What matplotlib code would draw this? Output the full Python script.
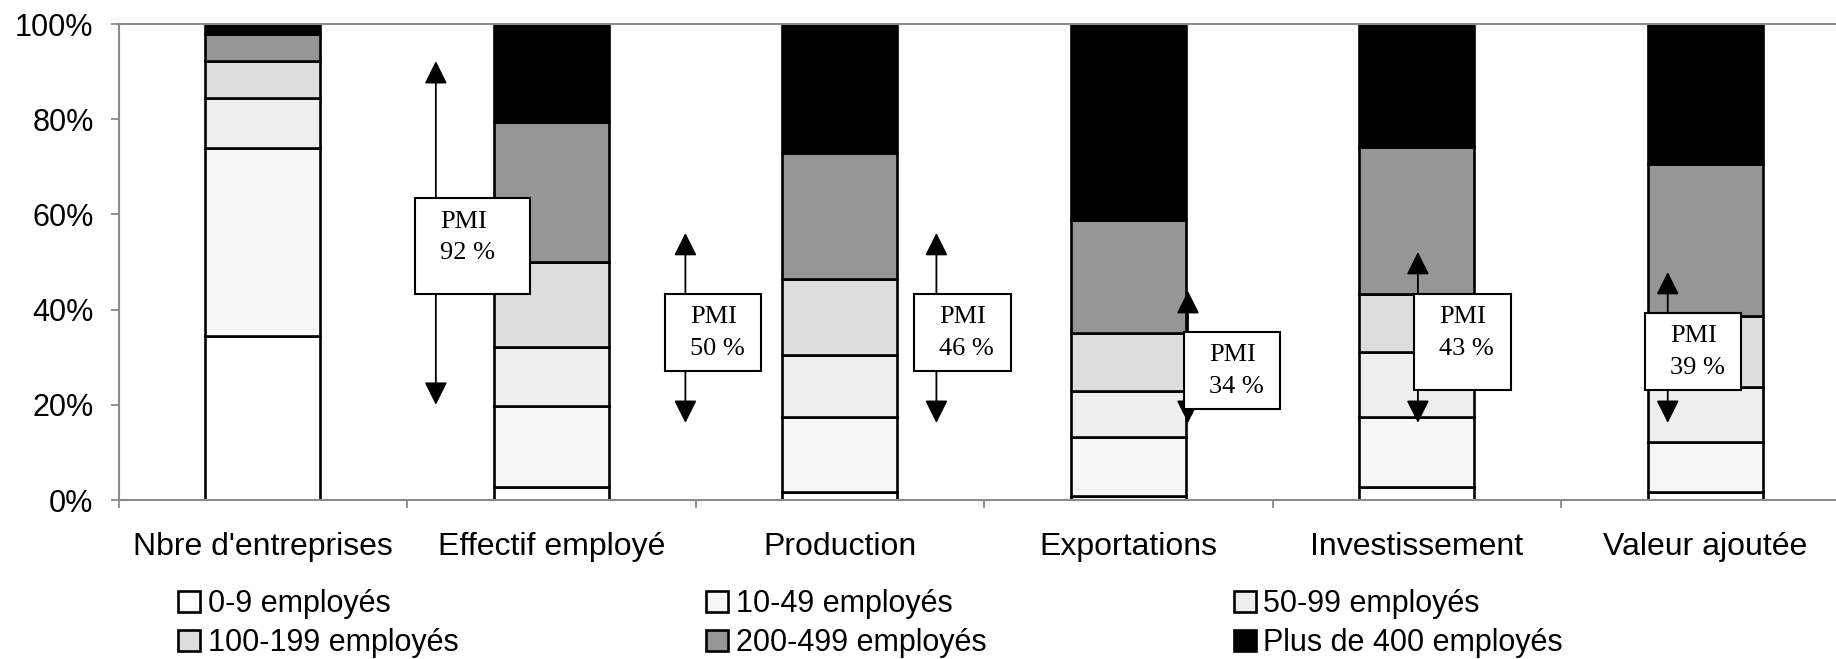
import matplotlib
matplotlib.use('Agg')
import matplotlib.pyplot as plt
from matplotlib.patches import Rectangle
from matplotlib.ticker import PercentFormatter, FixedLocator

plt.rcParams['font.family'] = ['Liberation Sans', 'DejaVu Sans']

categories = ["Nbre d'entreprises", "Effectif employé", "Production",
              "Exportations", "Investissement", "Valeur ajoutée"]
size_classes = ['0-9 employés', '10-49 employés', '50-99 employés',
                '100-199 employés', '200-499 employés', 'Plus de 400 employés']

# share (%) of each size class, per category
share_0_9 = [34.5, 2.7, 1.6, 0.9, 2.7, 1.6]
share_10_49 = [39.5, 17.1, 15.9, 12.4, 14.7, 10.5]
share_50_99 = [10.5, 12.4, 12.9, 9.6, 13.6, 11.7]
share_100_199 = [7.7, 17.7, 16.0, 12.1, 12.3, 14.9]
share_200_499 = [5.6, 29.6, 26.6, 23.8, 30.9, 31.9]
share_400_plus = [2.2, 20.5, 27.0, 41.2, 25.8, 29.4]

# PMI share printed in each box
pmi_values = [92, 50, 46, 34, 43, 39]

series = [share_0_9, share_10_49, share_50_99, share_100_199, share_200_499, share_400_plus]
colors = ['#ffffff', '#f6f6f6', '#eeeeee', '#dddddd', '#969696', '#000000']

fig = plt.figure(figsize=(18.36, 6.59), dpi=100)
ax = fig.add_axes([118.5 / 1836, 159 / 659, 1731 / 1836, 476 / 659])

x = list(range(len(categories)))
bottom = [0.0] * len(categories)
bars = []
for vals, col, lab in zip(series, colors, size_classes):
    frac = [v / 100 for v in vals]
    b = ax.bar(x, frac, 0.4, bottom=bottom, color=col, edgecolor='black',
               linewidth=1.9, label=lab, zorder=2)
    bars.append(b)
    bottom = [a + f for a, f in zip(bottom, frac)]

ax.set_xlim(-0.5, len(categories) - 0.5)
ax.set_ylim(0, 1)
ax.yaxis.set_major_locator(FixedLocator([0, 0.2, 0.4, 0.6, 0.8, 1.0]))
ax.yaxis.set_major_formatter(PercentFormatter(1.0, decimals=0))
ax.tick_params(axis='y', labelsize=22, length=6, width=1.2, color='#808080', pad=12)

ax.set_xticks(x)
ax.set_xticklabels(categories)
ax.set_xticks([i - 0.5 for i in range(len(categories))], minor=True)
ax.tick_params(axis='x', which='major', length=0, labelsize=23, pad=23)
ax.tick_params(axis='x', which='minor', length=6, width=1.2, color='#808080')

for side in ['left', 'bottom', 'top']:
    ax.spines[side].set_color('#8c8c8c')
    ax.spines[side].set_linewidth(1.5)
ax.spines['right'].set_visible(False)

# PMI arrows and boxes: arrow x, arrow top, arrow bottom, box x0, x1, y0, y1
pmi_layout = [
    (0.60, 0.922, 0.200, 0.528, 0.926, 0.433, 0.634),
    (1.465, 0.561, 0.162, 1.394, 1.727, 0.271, 0.433),
    (2.335, 0.561, 0.162, 2.259, 2.594, 0.271, 0.433),
    (3.207, 0.439, 0.162, 3.193, 3.526, 0.191, 0.353),
    (4.004, 0.521, 0.162, 3.990, 4.327, 0.231, 0.433),
    (4.870, 0.479, 0.162, 4.791, 5.124, 0.231, 0.393),
]
for val, (ax_x, top, bot, x0, x1, y0, y1) in zip(pmi_values, pmi_layout):
    ax.annotate('', xy=(ax_x, top), xytext=(ax_x, bot),
                arrowprops=dict(arrowstyle='<|-|>,head_length=0.7,head_width=0.35',
                                mutation_scale=20, color='black', lw=1.3,
                                shrinkA=0, shrinkB=0),
                zorder=3)
    ax.add_patch(Rectangle((x0, y0), x1 - x0, y1 - y0, facecolor='white',
                           edgecolor='black', linewidth=1.5, zorder=4))
    ax.annotate('PMI\n%d %%' % val, xy=(x0, y1), xytext=(18, -9),
                textcoords='offset points', ha='left', va='top',
                family='Liberation Serif', fontsize=19, linespacing=1.57, zorder=5)

order = [0, 3, 1, 4, 2, 5]
fig.legend([bars[i] for i in order], [size_classes[i] for i in order],
           loc='center left', bbox_to_anchor=(178 / 1836, 0.0535), ncol=3,
           frameon=False, fontsize=22, handlelength=0.72, handleheight=0.7,
           handletextpad=0.25, columnspacing=8.1, labelspacing=0.3,
           borderpad=0, borderaxespad=0)

fig.savefig('out.png', dpi=100)
